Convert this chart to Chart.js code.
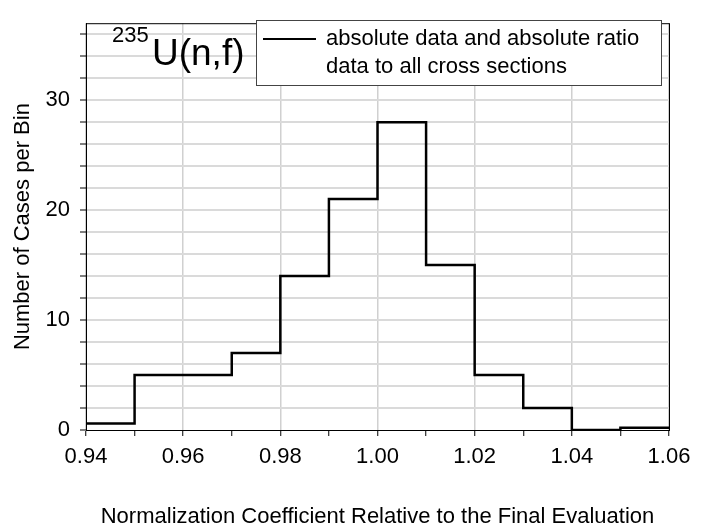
<!DOCTYPE html>
<html>
<head>
<meta charset="utf-8">
<script src="https://cdn.jsdelivr.net/npm/chart.js"></script>
<style>
  html, body { margin: 0; padding: 0; background: #fff; }
  #wrap { width: 708px; height: 528px; position: relative; }
</style>
</head>
<body>
<div id="wrap"><canvas id="chart"></canvas></div>
<script>
// bin left edges and counts per bin (last edge closes the final bin)
const binEdges = [0.94, 0.95, 0.96, 0.97, 0.98, 0.99, 1.00, 1.01, 1.02, 1.03, 1.04, 1.05, 1.06];
const binCounts = [0.6, 5, 5, 7, 14, 21, 28, 15, 5, 2, 0, 0.2];
const xTicks = [0.94, 0.95, 0.96, 0.97, 0.98, 0.99, 1.00, 1.01, 1.02, 1.03, 1.04, 1.05, 1.06];
const xLabelTicks = [0.94, 0.96, 0.98, 1.00, 1.02, 1.04, 1.06];
const yTicks = [0, 2, 4, 6, 8, 10, 12, 14, 16, 18, 20, 22, 24, 26, 28, 30, 32, 34, 36];
const yLabelTicks = [0, 10, 20, 30];
const seriesLabel = ['absolute data and absolute ratio', 'data to all cross sections'];

const FONT = "'Liberation Sans', Arial, sans-serif";
const near = (a, list) => list.some(v => Math.abs(v - a) < 1e-6);

const points = binEdges.map((x, i) => ({ x: x, y: binCounts[Math.min(i, binCounts.length - 1)] }));

// frame around the plot, title with superscript and the boxed legend
const decorations = {
    id: 'decorations',
    afterDraw(chart) {
        const { ctx, chartArea: a } = chart;
        ctx.save();
        ctx.strokeStyle = '#000';
        ctx.lineWidth = 1;
        ctx.strokeRect(a.left + 0.5, a.top + 0.5, a.right - a.left, a.bottom - a.top);

        ctx.fillStyle = '#000';
        ctx.textBaseline = 'alphabetic';
        ctx.font = '22px ' + FONT;
        ctx.fillText('235', 112, 42);
        ctx.font = '37px ' + FONT;
        ctx.fillText('U(n,f)', 152, 65);

        ctx.fillStyle = '#fff';
        ctx.fillRect(256, 20, 406, 66);
        ctx.strokeStyle = '#444';
        ctx.strokeRect(256.5, 20.5, 405, 65);
        const ds = chart.data.datasets[0];
        ctx.strokeStyle = ds.borderColor;
        ctx.lineWidth = 2;
        ctx.beginPath();
        ctx.moveTo(263, 39);
        ctx.lineTo(316, 39);
        ctx.stroke();
        ctx.fillStyle = '#000';
        ctx.font = '22px ' + FONT;
        ctx.textBaseline = 'middle';
        ds.label.forEach((t, i) => ctx.fillText(t, 326, 39 + i * 28));
        ctx.restore();
    }
};

new Chart(document.getElementById('chart'), {
    type: 'line',
    data: {
        datasets: [{
            label: seriesLabel,
            data: points,
            stepped: 'before',
            borderColor: '#000',
            borderWidth: 2.5,
            pointRadius: 0,
            fill: false
        }]
    },
    options: {
        responsive: true,
        maintainAspectRatio: false,
        animation: false,
        layout: { padding: { left: 0, right: 39, top: 8, bottom: 0 } },
        plugins: { legend: { display: false }, tooltip: { enabled: false } },
        scales: {
            x: {
                type: 'linear',
                min: 0.94,
                max: 1.06,
                afterBuildTicks: s => { s.ticks = xTicks.map(v => ({ value: v })); },
                afterFit: s => { s.height = 98; },
                grid: {
                    color: c => (c.tick && near(c.tick.value, xLabelTicks) ? '#d0d0d0' : 'rgba(0,0,0,0)'),
                    lineWidth: 1.5,
                    tickColor: '#000',
                    tickWidth: 1,
                    tickLength: 6
                },
                border: { display: true, color: '#000', width: 1 },
                ticks: {
                    autoSkip: false,
                    maxRotation: 0,
                    padding: 8,
                    color: '#000',
                    font: { family: FONT, size: 22 },
                    callback: v => (near(v, xLabelTicks) ? v.toFixed(2) : '')
                },
                title: {
                    display: true,
                    text: 'Normalization Coefficient Relative to the Final Evaluation',
                    color: '#000',
                    font: { family: FONT, size: 22 },
                    padding: { top: 0, bottom: -2 }
                }
            },
            y: {
                min: 0,
                max: 37,
                afterBuildTicks: s => { s.ticks = yTicks.map(v => ({ value: v })); },
                afterFit: s => { s.width = 86; },
                grid: {
                    color: c => (c.tick && c.tick.value === 0 ? 'rgba(0,0,0,0)' : '#dadada'),
                    lineWidth: 2,
                    tickColor: '#000',
                    tickWidth: 1,
                    tickLength: 6
                },
                border: { display: true, color: '#000', width: 1 },
                ticks: {
                    autoSkip: false,
                    padding: 10,
                    color: '#000',
                    font: { family: FONT, size: 22 },
                    callback: v => (yLabelTicks.includes(v) ? String(v) : '')
                },
                title: {
                    display: true,
                    text: 'Number of Cases per Bin',
                    color: '#000',
                    font: { family: FONT, size: 22 },
                    padding: { top: 10, bottom: 0 }
                }
            }
        }
    },
    plugins: [decorations]
});
</script>
</body>
</html>
